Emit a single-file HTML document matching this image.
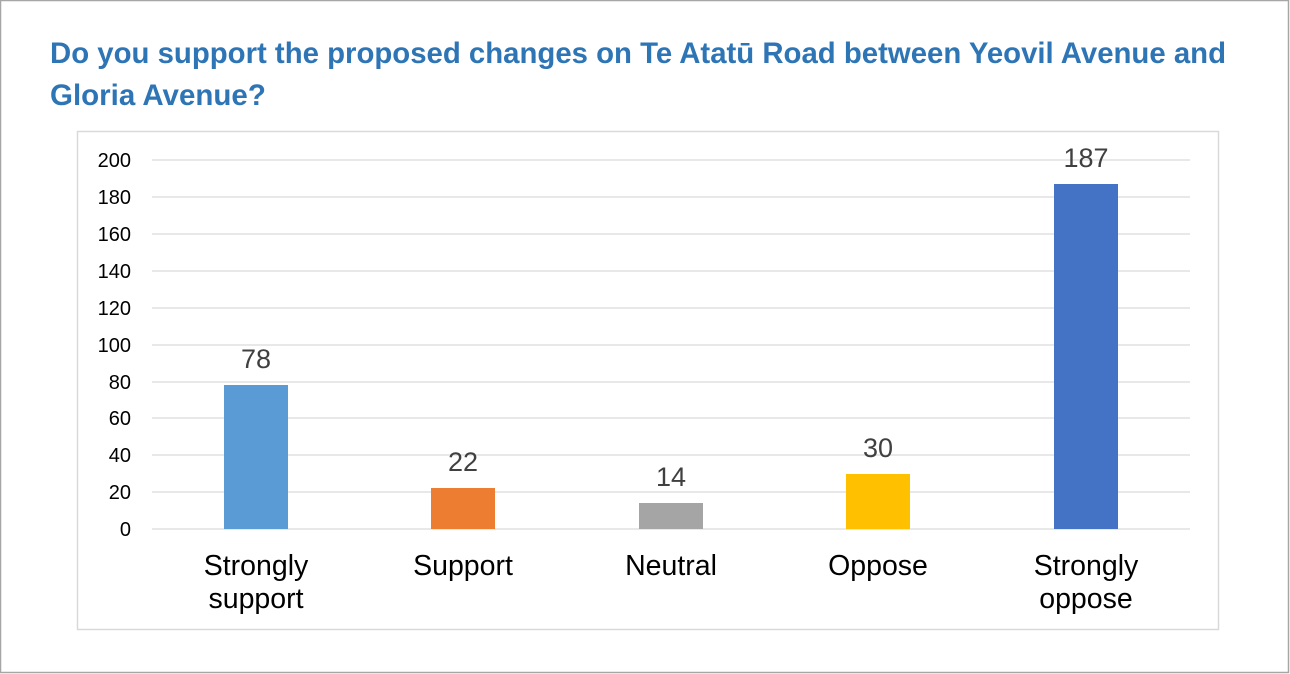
<!DOCTYPE html>
<html><head><meta charset="utf-8"><style>
body{margin:0;background:#fff;}
svg{display:block;font-family:"Liberation Sans",Arial,sans-serif;}
</style></head><body>
<svg width="1290" height="674" viewBox="0 0 1290 674">
<rect x="0.5" y="0.5" width="1288" height="672" fill="#fff" stroke="#a6a6a6" stroke-width="1.5"/>
<text x="50" y="63" font-size="29.5" font-weight="bold" fill="#2e75b6" textLength="1176" lengthAdjust="spacingAndGlyphs">Do you support the proposed changes on Te Atatū Road between Yeovil Avenue and</text>
<text x="50" y="105" font-size="29.5" font-weight="bold" fill="#2e75b6">Gloria Avenue?</text>
<rect x="77.5" y="131.5" width="1141" height="498" fill="#fff" stroke="#d9d9d9" stroke-width="1.5"/>
<g stroke="#d9d9d9" stroke-width="1.3">
<line x1="152" x2="1190" y1="160" y2="160"/><line x1="152" x2="1190" y1="197" y2="197"/>
<line x1="152" x2="1190" y1="234" y2="234"/><line x1="152" x2="1190" y1="271" y2="271"/>
<line x1="152" x2="1190" y1="308" y2="308"/><line x1="152" x2="1190" y1="345" y2="345"/>
<line x1="152" x2="1190" y1="382" y2="382"/><line x1="152" x2="1190" y1="418" y2="418"/>
<line x1="152" x2="1190" y1="455" y2="455"/><line x1="152" x2="1190" y1="492" y2="492"/>
<line x1="152" x2="1190" y1="529" y2="529"/>
</g>
<g font-size="20" fill="#000" text-anchor="end">
<text x="131" y="167">200</text><text x="131" y="204">180</text><text x="131" y="241">160</text>
<text x="131" y="278">140</text><text x="131" y="315">120</text><text x="131" y="352">100</text>
<text x="131" y="389">80</text><text x="131" y="425">60</text><text x="131" y="462">40</text>
<text x="131" y="499">20</text><text x="131" y="536">0</text>
</g>
<rect x="224" y="385" width="64" height="144" fill="#5b9bd5"/>
<rect x="431" y="488" width="64" height="41" fill="#ed7d31"/>
<rect x="639" y="503" width="64" height="26" fill="#a5a5a5"/>
<rect x="846" y="474" width="64" height="55" fill="#ffc000"/>
<rect x="1054" y="184" width="64" height="345" fill="#4472c4"/>
<g font-size="27" fill="#404040" text-anchor="middle">
<text x="256" y="368">78</text><text x="463" y="471">22</text><text x="671" y="486">14</text>
<text x="878" y="457">30</text><text x="1086" y="167">187</text>
</g>
<g font-size="28.5" fill="#000" text-anchor="middle">
<text x="256" y="575">Strongly</text><text x="256" y="608">support</text>
<text x="463" y="575">Support</text>
<text x="671" y="575">Neutral</text>
<text x="878" y="575">Oppose</text>
<text x="1086" y="575">Strongly</text><text x="1086" y="608">oppose</text>
</g>
</svg>
</body></html>
